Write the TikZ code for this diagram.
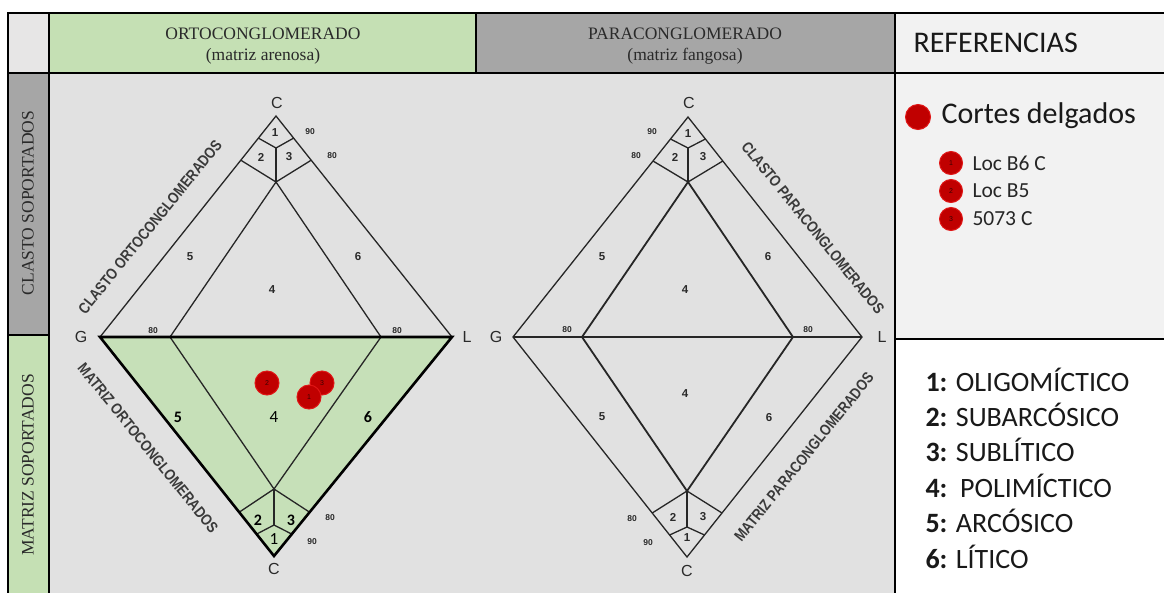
\documentclass[tikz,border=0pt]{standalone}
\usepackage{fontspec}
\setmainfont{Liberation Serif}
\newfontfamily\calf{Carlito}
\newfontfamily\arf{Liberation Sans}
\newfontfamily\condf[FakeStretch=0.84]{Liberation Sans Bold}
\usetikzlibrary{calc}
\definecolor{bodybg}{HTML}{E1E1E1}
\definecolor{greenh}{HTML}{C5E0B4}
\definecolor{grayh}{HTML}{A6A6A6}
\definecolor{cornerc}{HTML}{E7E6E6}
\definecolor{reftop}{HTML}{F2F2F2}
\definecolor{trigreen}{HTML}{C6E0B8}
\definecolor{dotred}{HTML}{C00000}
\definecolor{dotedge}{HTML}{E01515}
\definecolor{dottext}{HTML}{3A0000}
\definecolor{ink}{HTML}{2A2A2A}
\definecolor{sideink}{HTML}{3A3A3A}
\tikzset{
  frame/.style={line width=2pt, draw=black},
  edge/.style={line width=1.3pt, draw=black!85},
  inneredge/.style={line width=1.8pt, draw=black!85},
  thickedge/.style={line width=2.6pt, draw=black, line join=miter},
  hdr/.style={align=center, text=ink, font=\fontsize{17.5}{21}\selectfont},
  colhdr/.style={text=ink, font=\fontsize{17.5}{20}\selectfont, rotate=90},
  vlab/.style={text=ink, font=\arf\fontsize{16}{16}\selectfont},
  tinylab/.style={text=ink, font=\arf\bfseries\fontsize{8.5}{8.5}\selectfont},
  rnum/.style={text=ink, font=\arf\bfseries\fontsize{11.5}{11.5}\selectfont},
  gnum/.style={text=black, font=\calf\bfseries\fontsize{16}{16}\selectfont},
  gnumr/.style={text=black, font=\calf\fontsize{17}{17}\selectfont},
  sidelab/.style={text=sideink, font=\condf\fontsize{15.5}{15.5}\selectfont},
  reddot/.style={circle, fill=dotred, draw=dotedge, line width=1pt, minimum size=24pt, inner sep=0pt, text=dottext, font=\arf\fontsize{7}{7}\selectfont},
  legtext/.style={anchor=west, text=black!90, font=\calf\fontsize{28}{28}\selectfont},
  loctext/.style={anchor=west, text=black!85, font=\calf\fontsize{21.5}{21.5}\selectfont},
}
\begin{document}
\begin{tikzpicture}[x=1pt,y=-1pt]
\useasboundingbox (0,0) rectangle (1164,592);
\clip (0,0) rectangle (1164,592);
% backgrounds
\fill[white] (0,0) rectangle (1164,592);
\fill[bodybg] (49,73) rectangle (895,600);
\fill[cornerc] (8,13) rectangle (49,73);
\fill[greenh] (49,13) rectangle (476,73);
\fill[grayh] (476,13) rectangle (895,73);
\fill[reftop] (895,13) rectangle (1170,339);
\fill[white] (895,339) rectangle (1170,600);
\fill[grayh] (8,73) rectangle (49,335);
\fill[greenh] (8,335) rectangle (49,600);
% frame
\draw[frame] (8,600) -- (8,13) -- (1170,13);
\draw[frame] (8,73) -- (1170,73);
\draw[frame] (49,13) -- (49,600);
\draw[frame] (476,13) -- (476,73);
\draw[frame] (895,13) -- (895,600);
\draw[frame] (895,339) -- (1170,339);
\draw[line width=1.5pt] (8,335) -- (49,335);
% headers
\node[hdr] (hOrto) at (263,46) {ORTOCONGLOMERADO\\(matriz arenosa)};
\node[hdr] (hPara) at (685,46) {PARACONGLOMERADO\\(matriz fangosa)};
\node[colhdr] (hClasto) at (28,203) {CLASTO SOPORTADOS};
\node[colhdr] (hMatriz) at (28,465) {MATRIZ SOPORTADOS};

% ---------- ORTO diagram ----------
\coordinate (oG) at (100,337);
\coordinate (oL) at (452,337);
\coordinate (oCt) at (276,116);
\coordinate (oCb) at (274,556);
\coordinate (o80l) at (170,337);
\coordinate (o80r) at (381,337);
\coordinate (oIt) at (276,182);
\coordinate (oMt) at (276,148);
\coordinate (oIb) at (274,489);
\coordinate (oMb) at (274,525);
\fill[trigreen] (oG) -- (oL) -- (oCb) -- cycle;
\draw[edge] (oG) -- (oCt) -- (oL);
\draw[edge] (o80l) -- (oIt) -- (o80r);
\draw[edge] (oIt) -- (oMt);
\draw[edge] ($(oG)!0.8!(oCt)$) -- (oIt) -- ($(oL)!0.8!(oCt)$);
\draw[edge] ($(oG)!0.9!(oCt)$) -- (oMt) -- ($(oL)!0.9!(oCt)$);
\draw[edge] (o80l) -- (oIb) -- (o80r);
\draw[edge] (oIb) -- (oMb);
\draw[edge] ($(oG)!0.8!(oCb)$) -- (oIb) -- ($(oL)!0.8!(oCb)$);
\draw[edge] ($(oG)!0.9!(oCb)$) -- (oMb) -- ($(oL)!0.9!(oCb)$);
\draw[thickedge] (oG) -- (oL) -- (oCb) -- cycle;
% labels
\node[vlab] (oCtl) at (277,103) {C};
\node[vlab] (oGl) at (81,337) {G};
\node[vlab] (oLl) at (467,337) {L};
\node[vlab] (oCbl) at (274,569) {C};
\node[rnum] (ot1) at (275,133) {1};
\node[rnum] (ot2) at (261,157) {2};
\node[rnum] (ot3) at (289,157) {3};
\node[tinylab] (ot90) at (310,132) {90};
\node[tinylab] (ot80) at (332,156) {80};
\node[rnum] (ot5) at (190,257) {5};
\node[rnum] (ot4) at (272,290) {4};
\node[rnum] (ot6) at (358,257) {6};
\node[tinylab] (o80a) at (153,331) {80};
\node[tinylab] (o80b) at (397,331) {80};
\node[gnum] (ob2) at (258,520) {2};
\node[gnum] (ob3) at (291,520) {3};
\node[gnumr] (ob1) at (274,539) {1};
\node[tinylab] (ob80) at (330,518) {80};
\node[tinylab] (ob90) at (312,542) {90};
\node[gnum] (ob5) at (178,417) {5};
\node[gnumr] (ob4) at (274,417) {4};
\node[gnum] (ob6) at (368,417) {6};
\node[sidelab, rotate=51] (oSideT) at (150,227) {CLASTO ORTOCONGLOMERADOS};
\node[sidelab, rotate=-51] (oSideB) at (148,448) {MATRIZ ORTOCONGLOMERADOS};
% samples
\node[reddot] (s2) at (267,383) {2};
\node[reddot] (s3) at (322,383) {3};
\node[reddot] (s1) at (309,397) {1};

% ---------- PARA diagram ----------
\coordinate (pG) at (513,337);
\coordinate (pL) at (862,337);
\coordinate (pCt) at (688,117);
\coordinate (pCb) at (687,557);
\coordinate (p80l) at (582,337);
\coordinate (p80r) at (793,337);
\coordinate (pIt) at (688,182);
\coordinate (pMt) at (688,148);
\coordinate (pIb) at (687,491);
\coordinate (pMb) at (687,527);
\draw[edge] (pG) -- (pCt) -- (pL) -- (pCb) -- cycle;
\draw[line width=1.5pt, draw=black!85] (pG) -- (pL);
\draw[inneredge] (p80l) -- (pIt) -- (p80r) -- (pIb) -- cycle;
\draw[edge] (pIt) -- (pMt);
\draw[edge] ($(pG)!0.8!(pCt)$) -- (pIt) -- ($(pL)!0.8!(pCt)$);
\draw[edge] ($(pG)!0.9!(pCt)$) -- (pMt) -- ($(pL)!0.9!(pCt)$);
\draw[edge] (pIb) -- (pMb);
\draw[edge] ($(pG)!0.8!(pCb)$) -- (pIb) -- ($(pL)!0.8!(pCb)$);
\draw[edge] ($(pG)!0.9!(pCb)$) -- (pMb) -- ($(pL)!0.9!(pCb)$);
\node[vlab] (pCtl) at (689,103) {C};
\node[vlab] (pGl) at (496,337) {G};
\node[vlab] (pLl) at (882,337) {L};
\node[vlab] (pCbl) at (687,571) {C};
\node[rnum] (pt1) at (688,134) {1};
\node[rnum] (pt2) at (675,157) {2};
\node[rnum] (pt3) at (703,157) {3};
\node[tinylab] (pt90) at (652,132) {90};
\node[tinylab] (pt80) at (636,156) {80};
\node[rnum] (pt5) at (602,257) {5};
\node[rnum] (pt4) at (685,290) {4};
\node[rnum] (pt6) at (768,257) {6};
\node[tinylab] (p80a) at (567,330) {80};
\node[tinylab] (p80b) at (808,330) {80};
\node[rnum] (pb2) at (673,517) {2};
\node[rnum] (pb3) at (703,517) {3};
\node[rnum] (pb1) at (687,538) {1};
\node[tinylab] (pb80) at (632,519) {80};
\node[tinylab] (pb90) at (648,543) {90};
\node[rnum] (pb5) at (602,417) {5};
\node[rnum] (pb4) at (685,394) {4};
\node[rnum] (pb6) at (769,418) {6};
\node[sidelab, rotate=-51] (pSideT) at (813,228) {CLASTO PARACONGLOMERADOS};
\node[sidelab, rotate=51] (pSideB) at (804,457) {MATRIZ PARACONGLOMERADOS};

% ---------- References ----------
\node[anchor=west, text=black!90, font=\calf\fontsize{30}{30}\selectfont] (refT) at (910,43) {REFERENCIAS};
\node[reddot, minimum size=25pt] (bigdot) at (918,117) {};
\node[anchor=west, text=black!90, font=\calf\fontsize{30}{30}\selectfont] (cortes) at (938,116) {Cortes delgados};
\node[reddot, minimum size=23pt] (l1) at (951,163) {1};
\node[reddot, minimum size=23pt] (l2) at (951,191) {2};
\node[reddot, minimum size=23pt] (l3) at (951,219) {3};
\node[loctext] (t1) at (969,163) {Loc B6 C};
\node[loctext] (t2) at (969,191) {Loc B5};
\node[loctext] (t3) at (969,219) {5073 C};

\node[legtext] (g1) at (922,380) {\textbf{1:} OLIGOMÍCTICO};
\node[legtext] (g2) at (922,415) {\textbf{2:} SUBARCÓSICO};
\node[legtext] (g3) at (922,450) {\textbf{3:} SUBLÍTICO};
\node[legtext] (g4) at (922,486) {\textbf{4:}\ \ POLIMÍCTICO};
\node[legtext] (g5) at (922,521) {\textbf{5:} ARCÓSICO};
\node[legtext] (g6) at (922,557) {\textbf{6:} LÍTICO};
\end{tikzpicture}
\end{document}
